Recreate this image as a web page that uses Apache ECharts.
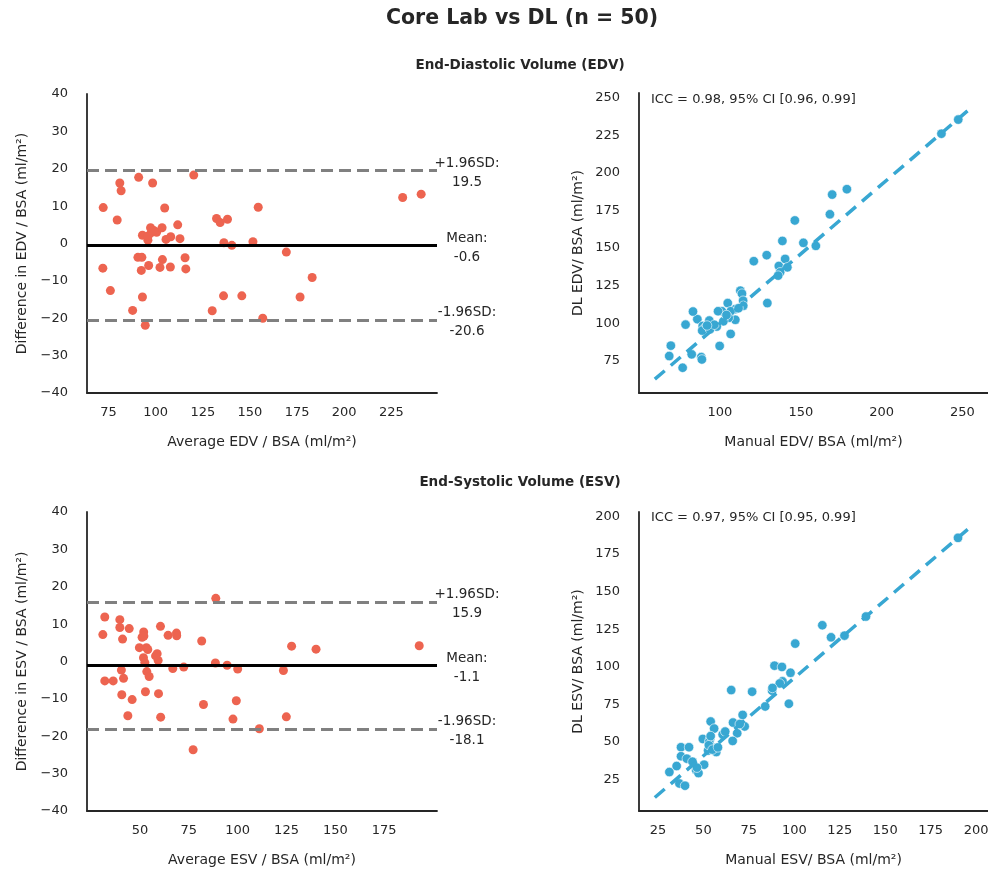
<!DOCTYPE html>
<html>
<head>
<meta charset="utf-8">
<script src="https://cdn.jsdelivr.net/npm/echarts@6/dist/echarts.min.js"></script>
<style>
  html, body { margin: 0; padding: 0; background: #fff; }
  #main { width: 988px; height: 873px; }
</style>
</head>
<body>
<div id="main"></div>
<script>
// EDV - Bland-Altman (average vs difference)
const edvBaMean = [72.2, 72.0, 76.0, 79.6, 81.0, 81.7, 87.8, 91.0, 90.6, 92.7,
  92.4, 93.0, 94.5, 93.0, 95.9, 96.3, 97.3, 98.4, 97.7, 100.5,
  103.4, 103.6, 102.3, 104.8, 105.5, 108.0, 107.8, 111.7, 112.9, 115.6,
  116.0, 120.2, 130.0, 132.3, 134.2, 138.1, 136.2, 140.4, 136.0, 145.7,
  151.6, 154.4, 156.8, 169.3, 176.6, 183.0, 231.0, 240.8, 96.0, 99.0];
const edvBaDiff = [9.6, -6.6, -12.6, 6.3, 16.2, 14.1, -17.9, 17.7, -3.7, -3.7,
  -7.2, -14.3, -21.9, 2.2, 0.9, -5.9, 4.2, 16.2, 2.9, 3.0,
  4.2, -4.3, -6.4, 9.5, 1.1, 1.8, -6.3, 5.0, 1.3, -3.8,
  -6.8, 18.3, -18.0, 6.7, 5.6, 6.5, 0.2, -0.5, -14.0, -14.0,
  0.5, 9.7, -20.0, -2.3, -14.3, -9.1, 12.3, 13.2, 2.0, 3.5];
const edvLimits = [19.5, -0.6, -20.6]; // +1.96SD, mean, -1.96SD

// EDV - manual vs DL
const edvManual = [247.4, 237, 178.5, 169.4, 168, 146.3, 138.6, 151.6, 159.3, 128.9,
  120.9, 140.3, 136.4, 141.7, 137.2, 136, 129.3, 112.6, 113.6, 114.3,
  114.4, 104.8, 109.5, 106.6, 101.2, 98.8, 109.5, 105.4, 102.1, 98,
  93.4, 86, 83.3, 78.7, 89.3, 91.1, 89, 93.8, 106.6, 99.8,
  88.4, 88.8, 82.5, 69.6, 68.6, 76.9, 96.5, 111.5, 92.0, 104.0];
const edvDL = [235.5, 226.1, 189.2, 185.6, 172.5, 168.4, 154.8, 153.5, 151.5, 145.3,
  141.3, 142.8, 138.1, 137.2, 133.9, 131.7, 113.4, 121.7, 119.7, 115,
  111.6, 113.4, 109.4, 108, 108, 108, 102.3, 103.6, 101.3, 97.8,
  101.8, 102.7, 107.8, 99.1, 98.2, 97.3, 95.1, 96, 92.9, 84.9,
  77.5, 75.9, 79.3, 85.1, 78.2, 70.4, 99.0, 110.0, 98.5, 105.5];
const edvFitX = [59.7, 256];
const edvFitY = [62.8, 244];

// ESV - Bland-Altman
const esvBaMean = [88.8, 32, 31, 39.7, 39.7, 44.5, 41.1, 60.5, 51.9, 51.1,
  64.4, 68.7, 68.8, 81.6, 49.7, 53.3, 58.8, 51.8, 59.3, 52.5,
  127.6, 140.1, 192.9, 40.5, 53.5, 54.7, 66.8, 72.4, 88.6, 94.6,
  100, 123.4, 32, 36.3, 41.6, 40.7, 46, 52.8, 59.5, 82.5,
  99.3, 43.8, 60.6, 97.6, 124.9, 111.1, 77.2, 52.0, 58.0, 54.0];
const esvBaDiff = [16.9, 11.9, 7.2, 11.2, 9.1, 8.8, 6, 9.4, 7.9, 6.5,
  7, 7.6, 6.9, 5.5, 3.7, 3.7, 2.1, 1, 0.3, -0.3,
  4.1, 3.3, 4.2, -2.3, -2.7, -4, -1.9, -1.5, -0.4, -1,
  -2, -2.4, -5.2, -5.2, -4.5, -8.9, -10.2, -8.1, -8.6, -11.5,
  -10.5, -14.5, -14.9, -15.4, -14.8, -18, -23.6, 6.8, 1.5, 3.2];
const esvLimits = [15.9, -1.1, -18.1];

// ESV - manual vs DL
const esvManual = [190, 139.4, 115.4, 120.2, 127.6, 100.5, 89.1, 93.2, 97.9, 93.5,
  87.8, 97, 84, 65.3, 76.8, 71.6, 66.3, 72.7, 68.6, 66.1,
  60.6, 54, 55.9, 49.7, 53.6, 53.2, 56.5, 57.1, 52.6, 37.7,
  42.1, 37.7, 40.9, 50.4, 35.3, 46, 47.3, 31.3, 36.8, 39.9,
  53, 55, 58, 62, 44, 46.5, 54, 70, 92, 88];
const esvDL = [185.8, 133.5, 127.7, 119.7, 120.8, 115.5, 100.8, 100, 96.1, 90.4,
  84.2, 75.5, 73.7, 84.6, 83.5, 68.1, 63, 60.4, 55.9, 50.8,
  55, 63.7, 59, 52.1, 51.7, 50.1, 46.1, 43.4, 44.4, 46.6,
  46.6, 40.6, 39, 35, 34.1, 31.4, 29.4, 30.1, 22.5, 21,
  48, 45, 46.5, 57, 37, 33, 54, 62, 89, 86];
const esvFitX = [23.3, 197.8];
const esvFitY = [13.2, 194];

// tick labels
const diffTicks = [-40, -30, -20, -10, 0, 10, 20, 30, 40];
const edvAvgTicks = [75, 100, 125, 150, 175, 200, 225];
const edvManTicks = [100, 150, 200, 250];
const edvDLTicks = [75, 100, 125, 150, 175, 200, 225, 250];
const esvAvgTicks = [50, 75, 100, 125, 150, 175];
const esvTicks = [25, 50, 75, 100, 125, 150, 175, 200];

const FONT = 'DejaVu Sans';
const TXT = '#262626';
const RED = '#ED6450';
const BLUE = '#38A7D2';

function zip(a, b) {
  return a.map((v, i) => [v, b[i]]);
}

function axis(gridIndex, min, max, ticks, name, gap, isY) {
  return {
    type: 'value',
    gridIndex: gridIndex,
    min: min,
    max: max,
    name: name,
    nameLocation: 'middle',
    nameGap: gap,
    nameTextStyle: { color: TXT, fontFamily: FONT, fontSize: 14 },
    axisLine: { show: true, onZero: false, lineStyle: { color: '#262626', width: 1.8 } },
    axisTick: { show: false },
    splitLine: { show: false },
    axisLabel: {
      customValues: ticks,
      color: TXT,
      fontFamily: FONT,
      fontSize: 13,
      margin: isY ? 19 : 13,
      formatter: v => String(v).replace('-', '\u2212')
    }
  };
}

function limitLines(vals) {
  return {
    silent: true,
    symbol: 'none',
    label: { show: false },
    data: [
      { yAxis: vals[0], lineStyle: { color: '#808080', type: [12, 6], width: 3 } },
      { yAxis: vals[1], lineStyle: { color: '#000', type: 'solid', width: 3 } },
      { yAxis: vals[2], lineStyle: { color: '#808080', type: [12, 6], width: 3 } }
    ]
  };
}

const chart = echarts.init(document.getElementById('main'));

const option = {
  animation: false,
  backgroundColor: '#fff',
  grid: [
    { left: 87, top: 94, width: 350, height: 299, outerBoundsMode: 'none' },
    { left: 639, top: 93, width: 349, height: 300, outerBoundsMode: 'none' },
    { left: 87, top: 512, width: 350, height: 299, outerBoundsMode: 'none' },
    { left: 639, top: 512, width: 349, height: 299, outerBoundsMode: 'none' }
  ],
  xAxis: [
    axis(0, 63.6, 249.2, edvAvgTicks, 'Average EDV / BSA (ml/m\u00b2)', 42),
    axis(1, 49.9, 265.8, edvManTicks, 'Manual EDV/ BSA (ml/m\u00b2)', 42),
    axis(2, 22.9, 202, esvAvgTicks, 'Average ESV / BSA (ml/m\u00b2)', 42),
    axis(3, 14.6, 206.5, esvTicks, 'Manual ESV/ BSA (ml/m\u00b2)', 42)
  ],
  yAxis: [
    axis(0, -40, 40, diffTicks, 'Difference in EDV / BSA (ml/m\u00b2)', 58, true),
    axis(1, 53.6, 253.2, edvDLTicks, 'DL EDV/ BSA (ml/m\u00b2)', 54, true),
    axis(2, -40, 40, diffTicks, 'Difference in ESV / BSA (ml/m\u00b2)', 58, true),
    axis(3, 4.2, 203, esvTicks, 'DL ESV/ BSA (ml/m\u00b2)', 54, true)
  ],
  series: [
    {
      type: 'scatter', xAxisIndex: 0, yAxisIndex: 0,
      data: zip(edvBaMean, edvBaDiff),
      symbolSize: 9,
      itemStyle: { color: RED, opacity: 1 },
      markLine: limitLines(edvLimits)
    },
    {
      type: 'scatter', xAxisIndex: 1, yAxisIndex: 1,
      data: zip(edvManual, edvDL),
      symbolSize: 9.5,
      itemStyle: { color: BLUE, borderColor: '#fff', borderWidth: 0.6, opacity: 1 }
    },
    {
      type: 'line', xAxisIndex: 1, yAxisIndex: 1,
      data: zip(edvFitX, edvFitY),
      symbol: 'none',
      lineStyle: { color: BLUE, width: 3.5, type: [13, 8] }
    },
    {
      type: 'scatter', xAxisIndex: 2, yAxisIndex: 2,
      data: zip(esvBaMean, esvBaDiff),
      symbolSize: 9,
      itemStyle: { color: RED, opacity: 1 },
      markLine: limitLines(esvLimits)
    },
    {
      type: 'scatter', xAxisIndex: 3, yAxisIndex: 3,
      data: zip(esvManual, esvDL),
      symbolSize: 9.5,
      itemStyle: { color: BLUE, borderColor: '#fff', borderWidth: 0.6, opacity: 1 }
    },
    {
      type: 'line', xAxisIndex: 3, yAxisIndex: 3,
      data: zip(esvFitX, esvFitY),
      symbol: 'none',
      lineStyle: { color: BLUE, width: 3.5, type: [13, 8] }
    }
  ]
};

chart.setOption(option);

// titles + annotations (annotation y comes from the axis scale)
function text(x, y, str, size, bold, align) {
  return {
    type: 'text', x: x, y: y, silent: true,
    style: {
      text: str, fill: TXT,
      font: (bold ? 'bold ' : '') + size + 'px "' + FONT + '"',
      textAlign: align || 'center', textVerticalAlign: 'middle', lineHeight: 19
    }
  };
}

const graphics = [
  text(522, 19, 'Core Lab vs DL (n = 50)', 20.5, true),
  text(520, 65, 'End-Diastolic Volume (EDV)', 13.5, true),
  text(520, 482, 'End-Systolic Volume (ESV)', 13.5, true),
  text(651, 100, 'ICC = 0.98, 95% CI [0.96, 0.99]', 13, false, 'left'),
  text(651, 518, 'ICC = 0.97, 95% CI [0.95, 0.99]', 13, false, 'left')
];

const limitNames = ['+1.96SD:', 'Mean:', '-1.96SD:'];
[[0, edvLimits, 249.2], [2, esvLimits, 202]].forEach(([g, lims, xmax]) => {
  lims.forEach((v, i) => {
    const p = chart.convertToPixel({ gridIndex: g }, [xmax, v]);
    graphics.push(text(p[0] + 30, p[1] + 2, limitNames[i] + '\n' + v.toFixed(1), 13.5, false));
  });
});

chart.setOption({ graphic: graphics });
</script>
</body>
</html>
